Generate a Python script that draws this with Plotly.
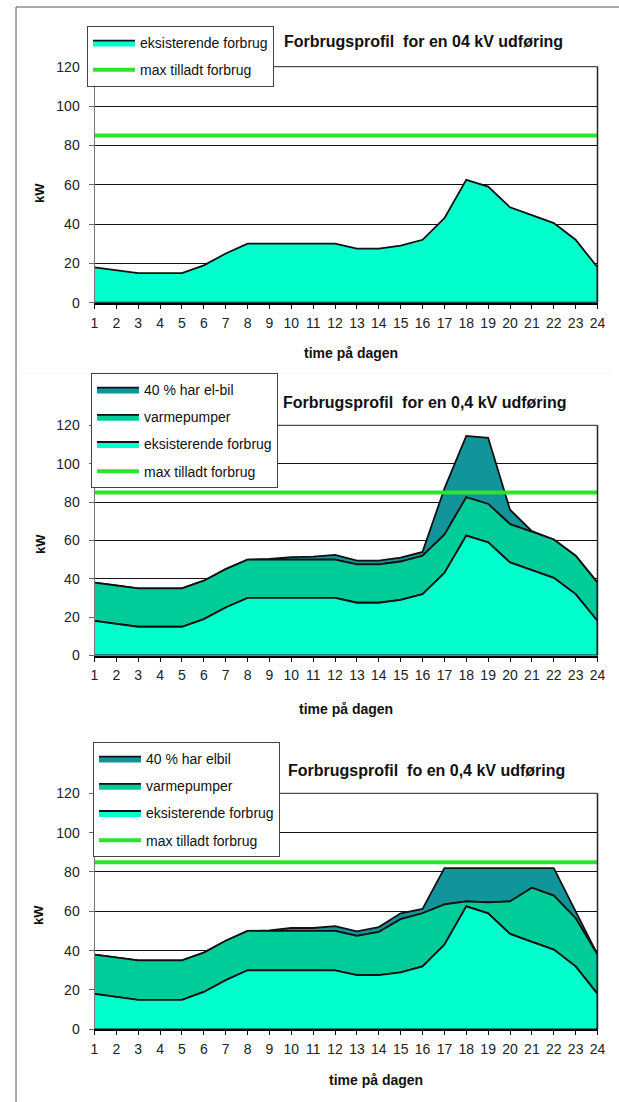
import plotly.graph_objects as go

# ---------------- data ----------------
hours = list(range(1, 25))
hour_labels = [str(h) for h in hours]

eksisterende = [18, 16.5, 15, 15, 15, 19, 25, 30, 30, 30, 30, 30,
                27.5, 27.5, 29, 32, 43, 62.5, 59, 48.5, 44.5, 40.5, 32, 18]

varmepumper_2 = [20, 20, 20, 20, 20, 20, 20, 20, 20, 20, 20, 20,
                 20, 20, 20, 20, 20, 20, 20, 20, 20, 20, 20, 20]
elbil_2 = [0, 0, 0, 0, 0, 0, 0, 0, 0.3, 1.3, 1.5, 2.5,
           2, 2, 2, 2, 24, 32, 34.5, 7.5, 0.3, 0, 0, 0]

varmepumper_3 = [20, 20, 20, 20, 20, 20, 20, 20, 20, 20, 20, 20,
                 20, 22, 27, 27, 20.5, 2.5, 5.5, 16.5, 27.5, 27.5, 24.5, 20]
elbil_3 = [0, 0, 0, 0, 0, 0, 0, 0, 0.3, 1.5, 1.5, 2.5,
           2.3, 2.5, 3, 2.2, 18.5, 17, 17.5, 17, 10, 14, 3.5, 0]

max_tilladt = [85, 85, 85, 85, 85, 85, 85, 85, 85, 85, 85, 85,
               85, 85, 85, 85, 85, 85, 85, 85, 85, 85, 85, 85]

y_ticks = [0, 20, 40, 60, 80, 100, 120]

titles = ["Forbrugsprofil  for en 04 kV udføring",
          "Forbrugsprofil  for en 0,4 kV udføring",
          "Forbrugsprofil  fo en 0,4 kV udføring"]
name_exist = "eksisterende forbrug"
name_varme = "varmepumper"
name_elbil = ["40 % har el-bil", "40 % har elbil"]
name_max = "max tilladt forbrug"
x_title = "time på dagen"
y_title = "kW"

# ---------------- styles ----------------
W, H = 619, 1102
FONT = "Liberation Sans, Arial, sans-serif"
C_EXIST = "#00ffcc"
C_VARME = "#00cc99"
C_ELBIL = "#11959a"
C_MAX = "#2ee22e"


def px(xp):
    return xp / W


def py(yp):
    return 1 - yp / H


X_LEFT, X_RIGHT = 94.5, 597.5

charts = [
    dict(y0=302.7, y120=66.7, title=(423, 42), xt=(351, 352.5), kw=(40, 193),
         leg=(87, 26),
         layers=[(name_exist, eksisterende, C_EXIST)]),
    dict(y0=655.5, y120=425.3, title=(425, 402), xt=(346, 708.5), kw=(40, 544),
         leg=(91, 373),
         layers=[(name_exist, eksisterende, C_EXIST),
                 (name_varme, varmepumper_2, C_VARME),
                 (name_elbil[0], elbil_2, C_ELBIL)]),
    dict(y0=1029.3, y120=793.3, title=(426, 770), xt=(376, 1079.5), kw=(39, 915),
         leg=(93, 742),
         layers=[(name_exist, eksisterende, C_EXIST),
                 (name_varme, varmepumper_3, C_VARME),
                 (name_elbil[1], elbil_3, C_ELBIL)]),
]

fig = go.Figure()
layout = dict(width=W, height=H,
              margin=dict(l=0, r=0, t=0, b=0, pad=0, autoexpand=False),
              paper_bgcolor="white", plot_bgcolor="white",
              font=dict(family=FONT, color="#111"), showlegend=True)
shapes = []
annotations = []

for i, ch in enumerate(charts):
    k = i + 1
    xa = "x" if k == 1 else f"x{k}"
    ya = "y" if k == 1 else f"y{k}"
    lg = "legend" if k == 1 else f"legend{k}"

    # stacked polygons (bottom -> top)
    bottom = [0] * 24
    polys = []
    for name, vals, col in ch["layers"]:
        top = [b + v for b, v in zip(bottom, vals)]
        polys.append((name, top, bottom, col))
        bottom = top
    # add top layer first so legend order matches reference
    for name, top, bot, col in reversed(polys):
        fig.add_trace(go.Scatter(
            x=hours + hours[::-1], y=top + bot[::-1],
            fill="toself", fillcolor=col, mode="lines",
            line=dict(color="#111", width=1.8),
            name=name, legend=lg, legendgroup=f"{k}{name}",
            xaxis=xa, yaxis=ya, hoverinfo="skip"))
    fig.add_trace(go.Scatter(
        x=hours, y=max_tilladt, mode="lines",
        line=dict(color=C_MAX, width=4),
        name=name_max, legend=lg, legendgroup=f"{k}max",
        xaxis=xa, yaxis=ya, hoverinfo="skip"))

    xkey = "xaxis" if k == 1 else f"xaxis{k}"
    ykey = "yaxis" if k == 1 else f"yaxis{k}"
    layout[xkey] = dict(domain=[px(X_LEFT), px(X_RIGHT)], range=[1, 24],
                        anchor=ya, tickvals=hours, ticktext=hour_labels,
                        ticks="outside", ticklen=4, tickcolor="#111",
                        showline=True, linecolor="#000", linewidth=2,
                        showgrid=False, zeroline=False, automargin=False,
                        tickfont=dict(size=14, color="#222"),
                        ticklabelstandoff=2, fixedrange=True)
    layout[ykey] = dict(domain=[py(ch["y0"]), py(ch["y120"])], range=[0, 120],
                        anchor=xa, tickvals=y_ticks,
                        ticktext=[str(v) for v in y_ticks],
                        ticks="outside", ticklen=5, tickcolor="#666",
                        showline=True, linecolor="#777", linewidth=1,
                        showgrid=True, gridcolor="#111", gridwidth=1,
                        zeroline=False, automargin=False,
                        tickfont=dict(size=14, color="#222"),
                        ticklabelstandoff=6, fixedrange=True)
    layout[lg] = dict(x=px(ch["leg"][0]), y=py(ch["leg"][1]),
                      xanchor="left", yanchor="top", bgcolor="white",
                      bordercolor="#444", borderwidth=1,
                      font=dict(size=14, color="#111", family=FONT),
                      traceorder="grouped", tracegroupgap=6, itemwidth=42)

    # plot box top & right border
    shapes.append(dict(type="line", xref=f"{xa} domain", yref=f"{ya} domain",
                       x0=0, x1=1, y0=1, y1=1, line=dict(color="#222", width=1),
                       layer="below"))
    shapes.append(dict(type="line", xref=f"{xa} domain", yref=f"{ya} domain",
                       x0=1, x1=1, y0=0, y1=1, line=dict(color="#222", width=1.5)))

    annotations.append(dict(text=f"<b>{titles[i]}</b>", xref="paper", yref="paper",
                            x=px(ch["title"][0]), y=py(ch["title"][1]),
                            xanchor="center", yanchor="middle", showarrow=False,
                            font=dict(size=16, color="#111", family=FONT)))
    annotations.append(dict(text=f"<b>{x_title}</b>", xref="paper", yref="paper",
                            x=px(ch["xt"][0]), y=py(ch["xt"][1]),
                            xanchor="center", yanchor="middle", showarrow=False,
                            font=dict(size=14, color="#111", family=FONT)))
    annotations.append(dict(text=f"<b>{y_title}</b>", xref="paper", yref="paper",
                            x=px(ch["kw"][0]), y=py(ch["kw"][1]), textangle=-90,
                            xanchor="center", yanchor="middle", showarrow=False,
                            font=dict(size=13, color="#111", family=FONT)))

# page frame lines (left and top) plus faint separator
shapes.append(dict(type="line", xref="paper", yref="paper",
                   x0=px(16), x1=px(16), y0=0, y1=py(7),
                   line=dict(color="#555", width=1)))
shapes.append(dict(type="line", xref="paper", yref="paper",
                   x0=px(16), x1=1, y0=py(7), y1=py(7),
                   line=dict(color="#555", width=1)))
shapes.append(dict(type="line", xref="paper", yref="paper",
                   x0=px(20), x1=px(612), y0=py(373), y1=py(373),
                   line=dict(color="#f3f3f3", width=1)))

layout["shapes"] = shapes
layout["annotations"] = annotations
fig.update_layout(**layout)

fig.write_html("out.html",
               config={"displayModeBar": False, "staticPlot": True},
               post_script="document.body.style.margin='0px';"
                           "document.body.style.overflow='hidden';")
